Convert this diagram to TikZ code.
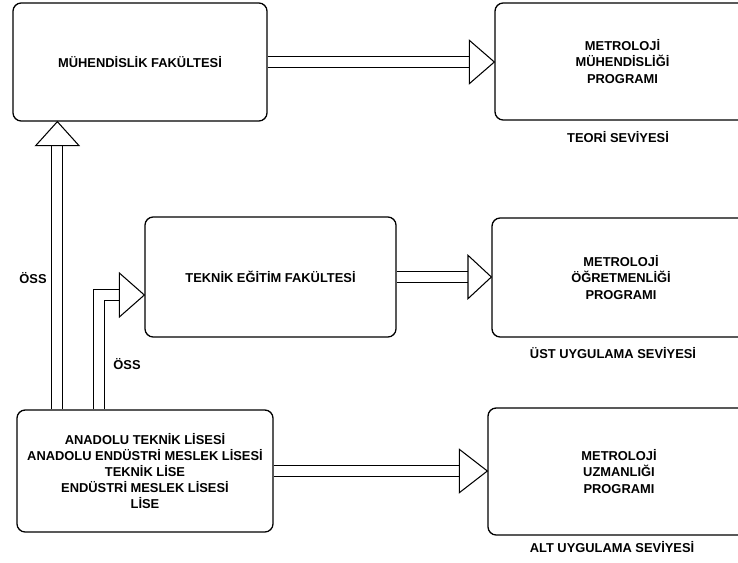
\documentclass[tikz,border=0pt]{standalone}
\usepackage{fontspec}
\setmainfont{Liberation Sans}
\usetikzlibrary{positioning,backgrounds}
\tikzstyle{box} = [draw, line width=1.1pt, rounded corners=7pt, align=center, font=\fontsize{11}{13.8}\selectfont\bfseries]
\tikzstyle{level} = [font=\fontsize{11}{13.8}\selectfont\bfseries]
\tikzstyle{shaft} = [double, double distance=8.5pt, line width=0.9pt]
\tikzstyle{head} = [draw, line width=0.9pt, fill=white, line join=miter]

\begin{document}
\begin{tikzpicture}[x=0.03cm, y=-0.03cm]
  \useasboundingbox (0,0) rectangle (738,562);
  \clip (0,0) rectangle (738,562);
  \node (muh) at (140,62) [box, minimum width=7.62cm, minimum height=3.54cm] {MÜHENDİSLİK FAKÜLTESİ};
  \node (metmuh) at (622.5,61.5) [box, minimum width=7.65cm, minimum height=3.51cm] {METROLOJİ\\MÜHENDİSLİĞİ\\PROGRAMI};
  \node (tef) at (270.5,277) [box, minimum width=7.53cm, minimum height=3.6cm] {TEKNİK EĞİTİM FAKÜLTESİ};
  \node (metogr) at (621,277.5) [box, minimum width=7.74cm, minimum height=3.57cm] {METROLOJİ\\ÖĞRETMENLİĞİ\\PROGRAMI};
  \node (lise) at (145,471) [box, minimum width=7.68cm, minimum height=3.66cm] {ANADOLU TEKNİK LİSESİ\\ANADOLU ENDÜSTRİ MESLEK LİSESİ\\TEKNİK LİSE\\ENDÜSTRİ MESLEK LİSESİ\\LİSE};
  \node (metuzm) at (619,471.5) [box, minimum width=7.86cm, minimum height=3.81cm] {METROLOJİ\\UZMANLIĞI\\PROGRAMI};
  \node (teori) at (618,137) [level] {TEORİ SEVİYESİ};
  \node (ust) at (613,353) [level] {ÜST UYGULAMA SEVİYESİ};
  \node (alt) at (612,547) [level] {ALT UYGULAMA SEVİYESİ};
  \node (oss1) at (33,278) [level] {ÖSS};
  \node (oss2) at (127,364) [level] {ÖSS};
  \coordinate (vs) at ([xshift=1.23cm]lise.north west);
  \coordinate (es) at ([xshift=2.49cm]lise.north west);
  \coordinate (tin) at ([yshift=-0.54cm]tef.west);
  \begin{pgfonlayer}{background}
    \draw [shaft] (muh.east) -- ([xshift=-0.75cm]metmuh.west |- muh.east);
    \draw [head] (metmuh.west |- muh.east) -- ++(-0.75cm,0.65cm) -- ++(0,-1.3cm) -- cycle;
    \draw [shaft] (tef.east) -- ([xshift=-0.7cm]metogr.west |- tef.east);
    \draw [head] (metogr.west |- tef.east) -- ++(-0.7cm,0.65cm) -- ++(0,-1.3cm) -- cycle;
    \draw [shaft] (lise.east) -- ([xshift=-0.84cm]metuzm.west |- lise.east);
    \draw [head] (metuzm.west |- lise.east) -- ++(-0.84cm,0.65cm) -- ++(0,-1.3cm) -- cycle;
    \draw [shaft] (vs) -- ([yshift=-0.72cm]vs |- muh.south);
    \draw [head] (vs |- muh.south) -- ++(-0.65cm,-0.72cm) -- ++(1.3cm,0) -- cycle;
    \draw [shaft] (es) |- ([xshift=-0.75cm]tin);
    \draw [head] (tin) -- ++(-0.75cm,0.66cm) -- ++(0,-1.32cm) -- cycle;
  \end{pgfonlayer}
\end{tikzpicture}
\end{document}
